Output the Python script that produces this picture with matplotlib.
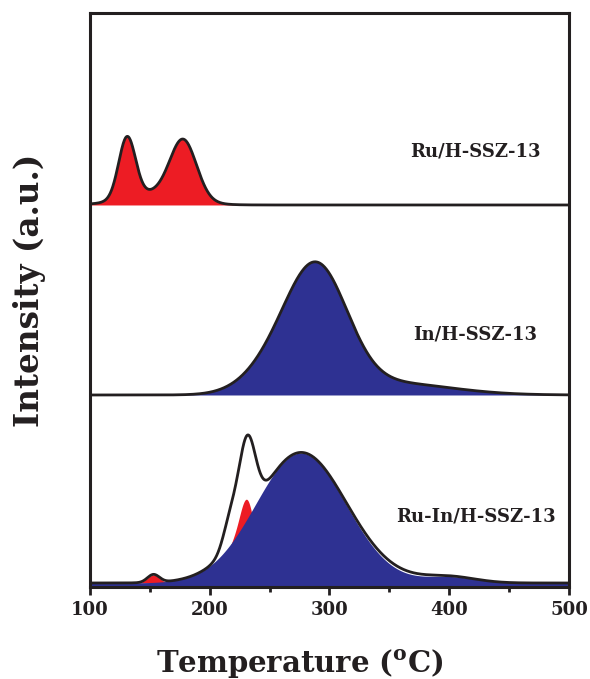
import numpy as np
import matplotlib
matplotlib.use("Agg")
import matplotlib.pyplot as plt

plt.rcParams['font.family'] = ['DejaVu Serif']
plt.rcParams['font.weight'] = 'bold'
plt.rcParams['mathtext.fontset'] = 'dejavuserif'

# --------------------
# PEAK DATA (intensity in a.u.)
# --------------------
temp_min, temp_max = 100, 500

# Ru/H-SSZ-13
ru_centers = [131, 155, 178]
ru_widths = [7, 25, 11]
ru_heights = [61, 12, 58]

# In/H-SSZ-13
in_centers = [258, 291, 350]
in_widths = [26, 25, 50]
in_heights = [30, 113, 12]

# Ru-In/H-SSZ-13 : red (Ru) and blue (In) components
ruin_red_centers = [153, 217, 231]
ruin_red_widths = [5, 6, 7]
ruin_red_heights = [8, 25, 82]
ruin_blue_centers = [276, 400]
ruin_blue_widths = [37.7, 22]
ruin_blue_heights = [130, 6]
# part of the measured profile not covered by the filled peaks
ruin_rest_centers = [340]
ruin_rest_widths = [35]
ruin_rest_heights = [3]

offsets = [380, 190, 2]
labels = ["Ru/H-SSZ-13", "In/H-SSZ-13", "Ru-In/H-SSZ-13"]
label_y = [433, 250, 68]

RED = "#ED1C24"
BLUE = "#2E3192"
INK = "#231F20"


def peaks(t, centers, widths, heights):
    y = np.zeros_like(t)
    for c, w, h in zip(centers, widths, heights):
        y += h * np.exp(-0.5 * ((t - c) / w) ** 2)
    return y


t = np.linspace(temp_min, temp_max, 1601)
y_bottom, y_top = -2, 572

fig = plt.figure(figsize=(5.9, 6.79), dpi=100)
ax = fig.add_axes([0.1525, 0.1355, 0.8119, 0.8454])

# --------------------
# TOP: Ru/H-SSZ-13
# --------------------
ru = peaks(t, ru_centers, ru_widths, ru_heights)
ax.fill_between(t, offsets[0], offsets[0] + ru, color=RED, lw=0)
ax.plot(t, offsets[0] + ru, color=INK, lw=2.0)

# --------------------
# MIDDLE: In/H-SSZ-13
# --------------------
ind = peaks(t, in_centers, in_widths, in_heights)
ax.fill_between(t, offsets[1], offsets[1] + ind, color=BLUE, lw=0)
ax.plot(t, offsets[1] + ind, color=INK, lw=2.0)

# --------------------
# BOTTOM: Ru-In/H-SSZ-13
# --------------------
red = peaks(t, ruin_red_centers, ruin_red_widths, ruin_red_heights)
blue = peaks(t, ruin_blue_centers, ruin_blue_widths, ruin_blue_heights)
rest = peaks(t, ruin_rest_centers, ruin_rest_widths, ruin_rest_heights)
ax.fill_between(t, offsets[2], offsets[2] + red, color=RED, lw=0)
ax.fill_between(t, y_bottom, offsets[2] + blue, color=BLUE, lw=0)
ax.plot(t, offsets[2] + red + blue + rest, color=INK, lw=2.0)

for lab, y in zip(labels, label_y):
    ax.text(422, y, lab, ha="center", va="center", fontsize=13,
            fontweight="bold", color=INK)

# --------------------
# AXES
# --------------------
ax.set_xlim(temp_min, temp_max)
ax.set_ylim(y_bottom, y_top)
ax.set_xticks([100, 200, 300, 400, 500])
ax.set_xticks([150, 250, 350, 450], minor=True)
ax.set_yticks([])
ax.tick_params(axis="x", which="major", direction="out", length=6, width=2,
               labelsize=13, pad=4, colors=INK)
ax.tick_params(axis="x", which="minor", direction="out", length=3.5, width=2,
               colors=INK)
for s in ax.spines.values():
    s.set_linewidth(2.2)
    s.set_color(INK)

ax.set_xlabel(r"Temperature ($\mathbf{^o}$C)", fontsize=21, fontweight="bold",
              color=INK)
ax.xaxis.set_label_coords(0.438, -0.105)
ax.set_ylabel("Intensity (a.u.)", fontsize=23.5, fontweight="bold", color=INK)
ax.yaxis.set_label_coords(-0.092, 0.517)

fig.savefig("out.png", dpi=100)
